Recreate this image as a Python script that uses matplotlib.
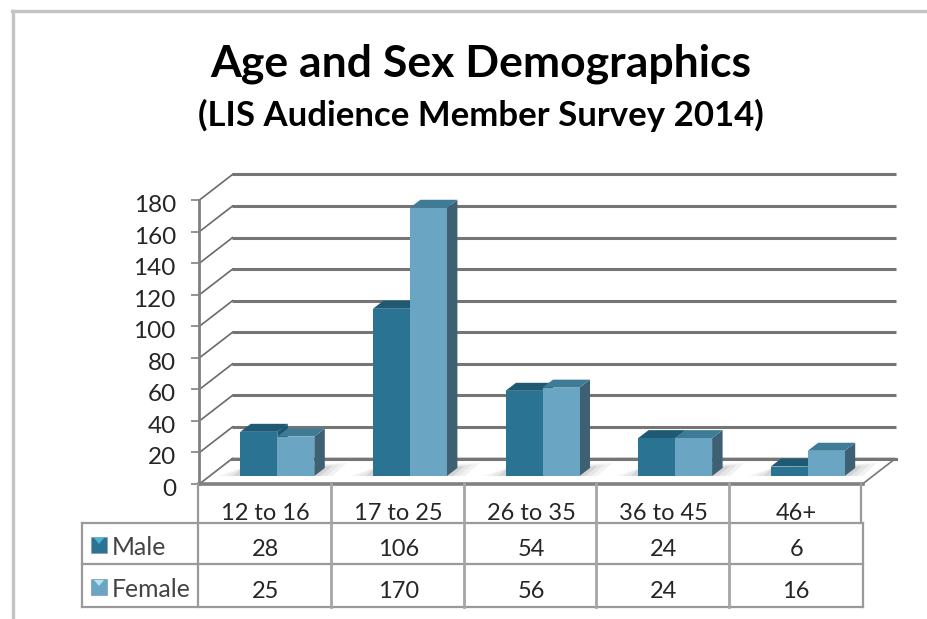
import matplotlib
matplotlib.use("Agg")
import matplotlib.pyplot as plt
from matplotlib.patches import Polygon
from matplotlib.lines import Line2D
from matplotlib.transforms import Affine2D, ScaledTranslation

categories = ["12 to 16", "17 to 25", "26 to 35", "36 to 45", "46+"]
male = [28, 106, 54, 24, 6]
female = [25, 170, 56, 24, 16]
series_names = ["Male", "Female"]
y_ticks = list(range(0, 181, 20))
title = "Age and Sex Demographics"
subtitle = "(LIS Audience Member Survey 2014)"

W, H = 928, 619
plt.rcParams['font.family'] = ['Lato', 'DejaVu Sans']
fig = plt.figure(figsize=(W / 100, H / 100), dpi=100, facecolor="white")
px = Affine2D().scale(1, -1).translate(0, H)  # top-left pixel coords

X0, X1, Y0, Y1 = 199.5, 862.5, 484.0, 200.0
ax = fig.add_axes([X0 / W, 1 - Y0 / H, (X1 - X0) / W, (Y0 - Y1) / H])
n = len(categories)
ax.set_xlim(0, n)
ax.set_ylim(0, 180)
ax.patch.set_alpha(0)

ux = (X1 - X0) / n       # px per category
uy = (Y0 - Y1) / 180     # px per value unit
DX, DY = 33 / ux, 25.5 / uy   # back wall offset in data units
GRID = "#757575"
TEXT = "#262626"

# Back wall gridlines and left wall diagonals
for v in y_ticks:
    ax.plot([DX, n + DX], [v + DY, v + DY], color=GRID, lw=2.2, clip_on=False, zorder=1, solid_capstyle="butt")
    ax.plot([0, DX], [v, v + DY], color="#6a6a6a", lw=1.2, clip_on=False, zorder=1)

# Floor
ax.add_patch(Polygon([(0, 0), (n, 0), (n + DX, DY), (DX, DY)], closed=True, facecolor="white",
                     edgecolor="#777777", lw=1.2, clip_on=False, zorder=2))
ax.plot([DX, n + DX], [DY, DY], color=GRID, lw=2.2, clip_on=False, zorder=2.1)

# Bars
BAR_W = 37 / ux
OFF_X, OFF_Y = 11.5 / ux, 8 / uy   # bar front plane relative to chart front
BDX, BDY = 10.5 / ux, 8 / uy       # bar depth
COL = {"Male": ("#2b7392", "#1f5a74", "#1d566f"),
       "Female": ("#6aa5c3", "#3e7b96", "#3e6073")}


def shadow(x0, x1):
    """Soft floor shadow around one group of bars, in three fading steps."""
    b = OFF_Y
    for grow, colour in ((1.0, "#f2f2f2"), (0.66, "#e6e6e6"), (0.33, "#d4d4d4")):
        ax.add_patch(Polygon([(x0 - 22 * grow / ux, b), (x1 + 18 * grow / ux, b),
                              (x1 + BDX + 22 * grow / ux, b + BDY + 5 * grow / uy),
                              (x0 + 2 / ux, b + BDY)],
                             facecolor=colour, edgecolor="none", clip_on=False, zorder=2.5))


def bar(x, v, name, z):
    front, top, side = COL[name]
    b = OFF_Y
    ax.add_patch(Polygon([(x + BAR_W, b), (x + BAR_W + BDX, b + BDY), (x + BAR_W + BDX, b + BDY + v), (x + BAR_W, b + v)],
                         facecolor=side, edgecolor="none", clip_on=False, zorder=z))
    ax.add_patch(Polygon([(x, b + v), (x + BAR_W, b + v), (x + BAR_W + BDX, b + v + BDY), (x + BDX, b + v + BDY)],
                         facecolor=top, edgecolor="none", clip_on=False, zorder=z))
    ax.add_patch(Polygon([(x, b), (x + BAR_W, b), (x + BAR_W, b + v), (x, b + v)],
                         facecolor=front, edgecolor="none", clip_on=False, zorder=z + 0.1))


for i in range(n):
    cx = i + 0.5 + OFF_X
    shadow(cx - BAR_W, cx + BAR_W)
    bar(cx - BAR_W, male[i], "Male", 3)
    bar(cx, female[i], "Female", 3.5)

# Axes styling
for s in ("top", "right"):
    ax.spines[s].set_visible(False)
ax.spines["left"].set(color="#808080", lw=2.0, zorder=5)
ax.spines["bottom"].set(color="#808080", lw=2.6, zorder=5)
ax.set_yticks(y_ticks)
ax.set_yticklabels([str(v) for v in y_ticks], fontsize=17.5, color=TEXT)
ax.tick_params(axis="y", length=6, width=1.2, color="#808080", pad=11)
shift = ScaledTranslation(0, -0.035, fig.dpi_scale_trans)  # 3.5 px down
for lab in ax.get_yticklabels():
    lab.set_transform(lab.get_transform() + shift)
ax.set_xticks([i + 0.5 for i in range(n)])
ax.set_xticklabels(categories, fontsize=17, color=TEXT)
ax.tick_params(axis="x", length=0, pad=14)


# Data table
def hl(x0, x1, y, c="#9a9a9a", lw=1.6):
    fig.add_artist(Line2D([x0, x1], [y, y], color=c, lw=lw, transform=px))


def vl(x, y0, y1, c="#9a9a9a", lw=1.6):
    fig.add_artist(Line2D([x, x], [y0, y1], color=c, lw=lw, transform=px))


T0, T1, T2 = 523, 564, 607
LEFT = 82
for y in (T0, T1, T2):
    hl(LEFT, 863, y)
vl(LEFT, T0, T2)
vl(X0 - 1.5, 484, T2)
vl(863, T0, T2)
vl(X1 - 2, 484, T0)
for i in range(1, n):
    vl(X0 + i * ux - 1, 484, T2, c="#a6a6a6", lw=2)

rows = [male, female]
row_y = [548, 590]
key_hi = {"Male": "#45b4d6", "Female": "#b5e3f2"}
for r, (name, vals) in enumerate(zip(series_names, rows)):
    ty = row_y[r]
    fig.add_artist(plt.Text(112, ty - 0.5, name, transform=px, fontsize=17.8, color="#444444", va="center", ha="left"))
    front = COL[name][0]
    kt, kb = ty - 11, ty + 5
    fig.add_artist(Polygon([(91, kt), (107, kt), (107, kb), (91, kb)], closed=True,
                           transform=px, facecolor=front, edgecolor="#8aa4b2", lw=0.6))
    fig.add_artist(Polygon([(94, kt + 1), (104, kt + 1), (99, kt + 7)], closed=True,
                           transform=px, facecolor=key_hi[name], edgecolor="none"))
    for i, v in enumerate(vals):
        fig.add_artist(plt.Text(X0 + (i + 0.5) * ux, ty + 1.5, str(v), transform=px, fontsize=17, color=TEXT,
                                va="center", ha="center"))

# Chart frame
vl(13, 11, H, c="#c4c4c4", lw=2.4)
hl(12, W, 11, c="#c4c4c4", lw=2.4)

# Titles
fig.add_artist(plt.Text(481, 64, title, transform=px, fontsize=32, fontweight="bold", color="black",
                        ha="center", va="center"))
fig.add_artist(plt.Text(481, 115, subtitle, transform=px, fontsize=25, fontweight="bold", color="black",
                        ha="center", va="center"))

fig.savefig("out.png", dpi=100)
